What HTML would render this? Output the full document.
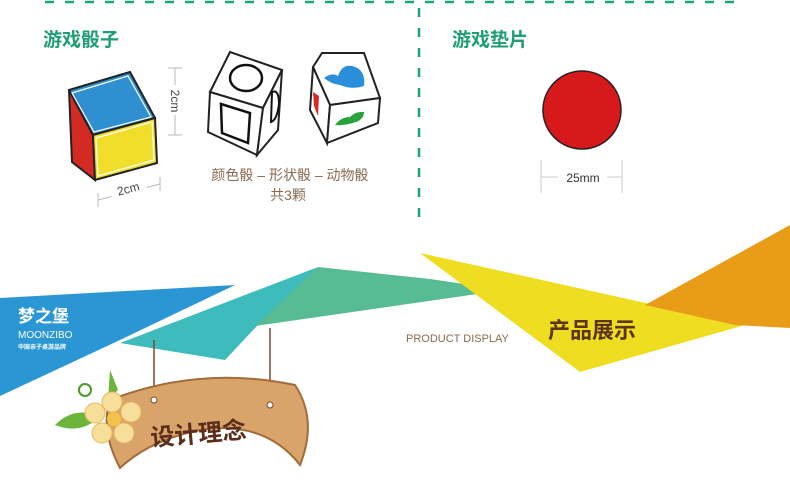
<!DOCTYPE html>
<html><head><meta charset="utf-8"><style>
html,body{margin:0;padding:0;background:#fff;width:790px;height:489px;overflow:hidden}
svg{display:block}
text{font-family:"Liberation Sans","Noto Sans CJK SC",sans-serif}
</style></head><body>
<svg width="790" height="489" viewBox="0 0 790 489" xmlns="http://www.w3.org/2000/svg">
<line x1="45" y1="2" x2="735" y2="2" stroke="#1aa57a" stroke-width="2.5" stroke-dasharray="9,11"/>
<line x1="419" y1="8" x2="419" y2="220" stroke="#1aa57a" stroke-width="2.5" stroke-dasharray="9,11"/>
<text x="43" y="46" font-size="19" font-weight="bold" fill="#1f9e76">游戏骰子</text>
<text x="452" y="46" font-size="19" font-weight="bold" fill="#1f9e76">游戏垫片</text>
<!-- color cube -->
<polygon points="69,90 93,135 95,180 72,162" fill="#d42a24" stroke="#222" stroke-width="2"/>
<polygon points="69,90 130,72 155,118 93,135" fill="#2f8fd0" stroke="#222" stroke-width="2"/>
<polygon points="93,135 155,118 157,163 95,180" fill="#f0de2a" stroke="#222" stroke-width="2"/>
<polygon points="72,93 128,76 151,117 94,132" fill="none" stroke="#fff" stroke-width="1.2"/>
<polygon points="96,138 152,122 154,160 98,176" fill="none" stroke="#fff" stroke-width="1.2"/>
<g stroke="#bbb" stroke-width="1"><line x1="98" y1="200" x2="160" y2="184"/><line x1="98" y1="193" x2="98" y2="207"/><line x1="160" y1="177" x2="160" y2="191"/>
<line x1="175" y1="68" x2="175" y2="135"/><line x1="168" y1="68" x2="182" y2="68"/><line x1="168" y1="135" x2="182" y2="135"/></g>
<rect x="110" y="180" width="36" height="14" fill="#fff" transform="rotate(-15 128 188)"/>
<text x="128" y="193" font-size="12" fill="#444" text-anchor="middle" transform="rotate(-15 128 188)">2cm</text>
<rect x="169" y="85" width="12" height="30" fill="#fff"/>
<text x="175" y="101" font-size="12" fill="#444" text-anchor="middle" transform="rotate(90 175 101)" dy="4">2cm</text>
<!-- shape cube -->
<polygon points="210,92 230,52 282,70 263,108" fill="#fff" stroke="#222" stroke-width="2"/>
<polygon points="210,92 263,108 257,155 208,132" fill="#fff" stroke="#222" stroke-width="2"/>
<polygon points="263,108 282,70 278,130 257,155" fill="#fff" stroke="#222" stroke-width="2"/>
<ellipse cx="246" cy="78" rx="16" ry="13" fill="none" stroke="#111" stroke-width="2.5"/>
<polygon points="221,104 250,113 248,143 222,133" fill="none" stroke="#111" stroke-width="2.5"/>
<path d="M272,92 q7,-3 7,12 q-2,16 -8,18 z" fill="none" stroke="#111" stroke-width="2"/>
<!-- animal cube -->
<polygon points="313,67 322,53 364,53 380,98 330,105" fill="#fff" stroke="#222" stroke-width="2"/>
<polygon points="313,67 330,105 327,143 310,110" fill="#fff" stroke="#222" stroke-width="2"/>
<polygon points="330,105 380,98 378,123 327,143" fill="#fff" stroke="#222" stroke-width="2"/>
<path d="M324,78 q8,-6 14,-2 q4,-12 14,-10 q14,3 12,20 q-12,4 -24,-1 q-9,-1 -16,-7z" fill="#2a8fd8"/>
<path d="M335,125 q6,-8 15,-8 q6,-6 14,-5 q0,7 -8,10 q-12,4 -21,3z" fill="#27a23c"/>
<path d="M313,92 l6,4 l-1,20 l-4,-10z" fill="#d42a24"/>
<text x="290" y="180" font-size="14" fill="#8a6a50" text-anchor="middle">颜色骰 – 形状骰 – 动物骰</text>
<text x="288" y="200" font-size="14" fill="#8a6a50" text-anchor="middle">共3颗</text>
<!-- disc -->
<circle cx="582" cy="110" r="39" fill="#d7191c" stroke="#222" stroke-width="1.5"/>
<g stroke="#ccc" stroke-width="1"><line x1="541" y1="160" x2="541" y2="193"/><line x1="622" y1="160" x2="622" y2="193"/><line x1="541" y1="177" x2="558" y2="177"/><line x1="607" y1="177" x2="622" y2="177"/></g>
<text x="583" y="182" font-size="12" fill="#333" text-anchor="middle">25mm</text>
<!-- banner -->
<polygon points="0,298 235,285 120,340 0,396" fill="#2a96d4"/>
<polygon points="120,343 318,267 255,328 225,360" fill="#3ebbbd"/>
<polygon points="318,267 430,279 505,290 255,326" fill="#57bb93"/>
<polygon points="420,253 745,325 580,372" fill="#efdd22"/>
<polygon points="645,305 790,225 790,328 735,325" fill="#e89c18"/>
<text x="18" y="322" font-size="17" font-weight="bold" fill="#fff">梦之堡</text>
<text x="18" y="338" font-size="10" fill="#fff">MOONZIBO</text>
<text x="18" y="349" font-size="6" font-weight="bold" fill="#fff">中国亲子桌游品牌</text>
<text x="406" y="342" font-size="11" fill="#8a6a4a">PRODUCT DISPLAY</text>
<text x="548" y="338" font-size="22" font-weight="bold" fill="#5a3518">产品展示</text>
<!-- sign -->
<line x1="154" y1="340" x2="154" y2="400" stroke="#7a4a2a" stroke-width="1.5"/>
<line x1="270" y1="328" x2="270" y2="405" stroke="#7a4a2a" stroke-width="1.5"/>
<path d="M110,400 Q200,365 295,385 Q318,420 300,465 Q265,420 200,430 Q150,440 120,468 Q100,430 110,400z" fill="#d9a46a" stroke="#a06c3a" stroke-width="2"/>
<text x="150" y="442" font-size="24" font-weight="bold" fill="#5a2e1a" transform="rotate(-5 200 430)">设计理念</text>
<circle cx="154" cy="400" r="3" fill="#fff" stroke="#7a4a2a"/>
<circle cx="270" cy="405" r="3" fill="#fff" stroke="#7a4a2a"/>
<!-- flower -->
<path d="M110,370 l8,20 l-10,10z" fill="#6cb43a"/>
<path d="M55,425 q20,-20 45,-8 q-20,18 -45,8z" fill="#6cb43a"/>
<circle cx="85" cy="390" r="6" fill="none" stroke="#4a9a2a" stroke-width="2"/>
<g fill="#f6df9a" stroke="#e6b860" stroke-width="1">
<circle cx="112" cy="402" r="10"/><circle cx="131" cy="412" r="10"/><circle cx="124" cy="433" r="10"/><circle cx="102" cy="433" r="10"/><circle cx="95" cy="413" r="10"/></g>
<circle cx="114" cy="419" r="7" fill="#f2c24a"/>
</svg>
</body></html>
